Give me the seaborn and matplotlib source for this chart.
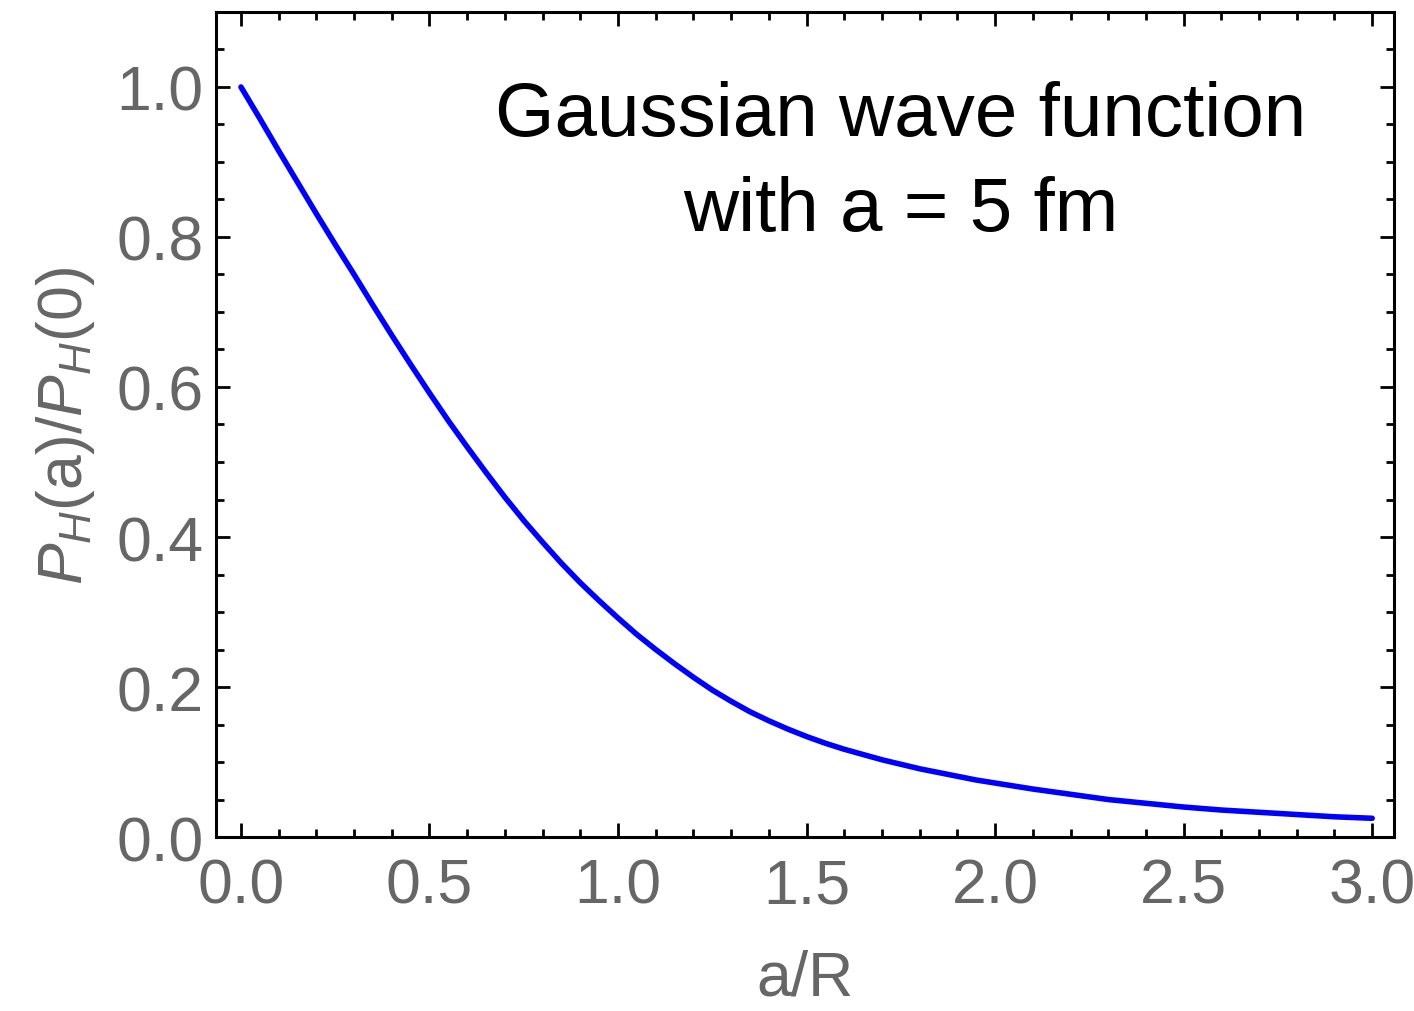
import matplotlib
matplotlib.use("Agg")
import matplotlib.pyplot as plt
import pandas as pd
import seaborn as sns
from matplotlib.ticker import MultipleLocator

# values
a_over_R = [0.00, 0.05, 0.10, 0.15, 0.20, 0.25, 0.30, 0.35, 0.40, 0.45,
            0.50, 0.55, 0.60, 0.65, 0.70, 0.75, 0.80, 0.85, 0.90, 0.95,
            1.00, 1.05, 1.10, 1.15, 1.20, 1.25, 1.30, 1.35, 1.40, 1.45,
            1.50, 1.55, 1.60, 1.65, 1.70, 1.75, 1.80, 1.85, 1.90, 1.95,
            2.00, 2.10, 2.20, 2.30, 2.40, 2.50, 2.60, 2.70, 2.80, 2.90, 3.00]
p_ratio = [1.000, 0.958, 0.915, 0.873, 0.831, 0.790, 0.750, 0.709, 0.669, 0.630,
           0.592, 0.555, 0.520, 0.486, 0.453, 0.422, 0.393, 0.365, 0.339, 0.315,
           0.292, 0.270, 0.250, 0.231, 0.213, 0.196, 0.181, 0.167, 0.155, 0.144,
           0.134, 0.125, 0.117, 0.110, 0.103, 0.097, 0.091, 0.086, 0.081, 0.076,
           0.072, 0.064, 0.057, 0.050, 0.045, 0.040, 0.036, 0.033, 0.030, 0.027, 0.025]

x_ticks = [0.0, 0.5, 1.0, 1.5, 2.0, 2.5, 3.0]
y_ticks = [0.0, 0.2, 0.4, 0.6, 0.8, 1.0]

sns.set_style("ticks")
plt.rcParams["font.family"] = ["Liberation Sans", "DejaVu Sans"]
plt.rcParams["mathtext.fontset"] = "custom"
plt.rcParams["mathtext.rm"] = "Liberation Sans"
plt.rcParams["mathtext.it"] = "Liberation Sans:italic"

df = pd.DataFrame({"x": a_over_R, "y": p_ratio})

fig = plt.figure(figsize=(14.14, 10.12), dpi=100)
ax = fig.add_axes([0.1528, 0.1719, 0.8331, 0.8153])

sns.lineplot(data=df, x="x", y="y", ax=ax, color="#0000ff", linewidth=4)

ax.set_xlim(-0.066, 3.058)
ax.set_ylim(0, 1.1)
ax.set_xticks(x_ticks)
ax.set_yticks(y_ticks)
ax.xaxis.set_minor_locator(MultipleLocator(0.1))
ax.yaxis.set_minor_locator(MultipleLocator(0.05))
ax.set_xticklabels([f"{v:.1f}" for v in x_ticks])
ax.set_yticklabels([f"{v:.1f}" for v in y_ticks])

grey = "#666666"
ax.tick_params(which="both", direction="in", top=True, right=True,
               color="black", width=2)
ax.tick_params(which="major", length=10, labelsize=45, labelcolor=grey)
ax.tick_params(axis="x", which="major", pad=14)
ax.tick_params(axis="y", which="major", pad=9)
ax.tick_params(which="minor", length=6)
for s in ax.spines.values():
    s.set_linewidth(2.2)
    s.set_color("black")

ax.set_xlabel("a/R", fontsize=45, color=grey, labelpad=24)
ax.set_ylabel(r"$P_H$(a)/$P_H$(0)", fontsize=45, color=grey, labelpad=14)

ax.text(0.5815, 0.817, "Gaussian wave function\nwith a = 5 fm",
        transform=ax.transAxes, ha="center", va="center",
        fontsize=55, color="black", linespacing=1.43)

fig.savefig("out.png", dpi=100)
